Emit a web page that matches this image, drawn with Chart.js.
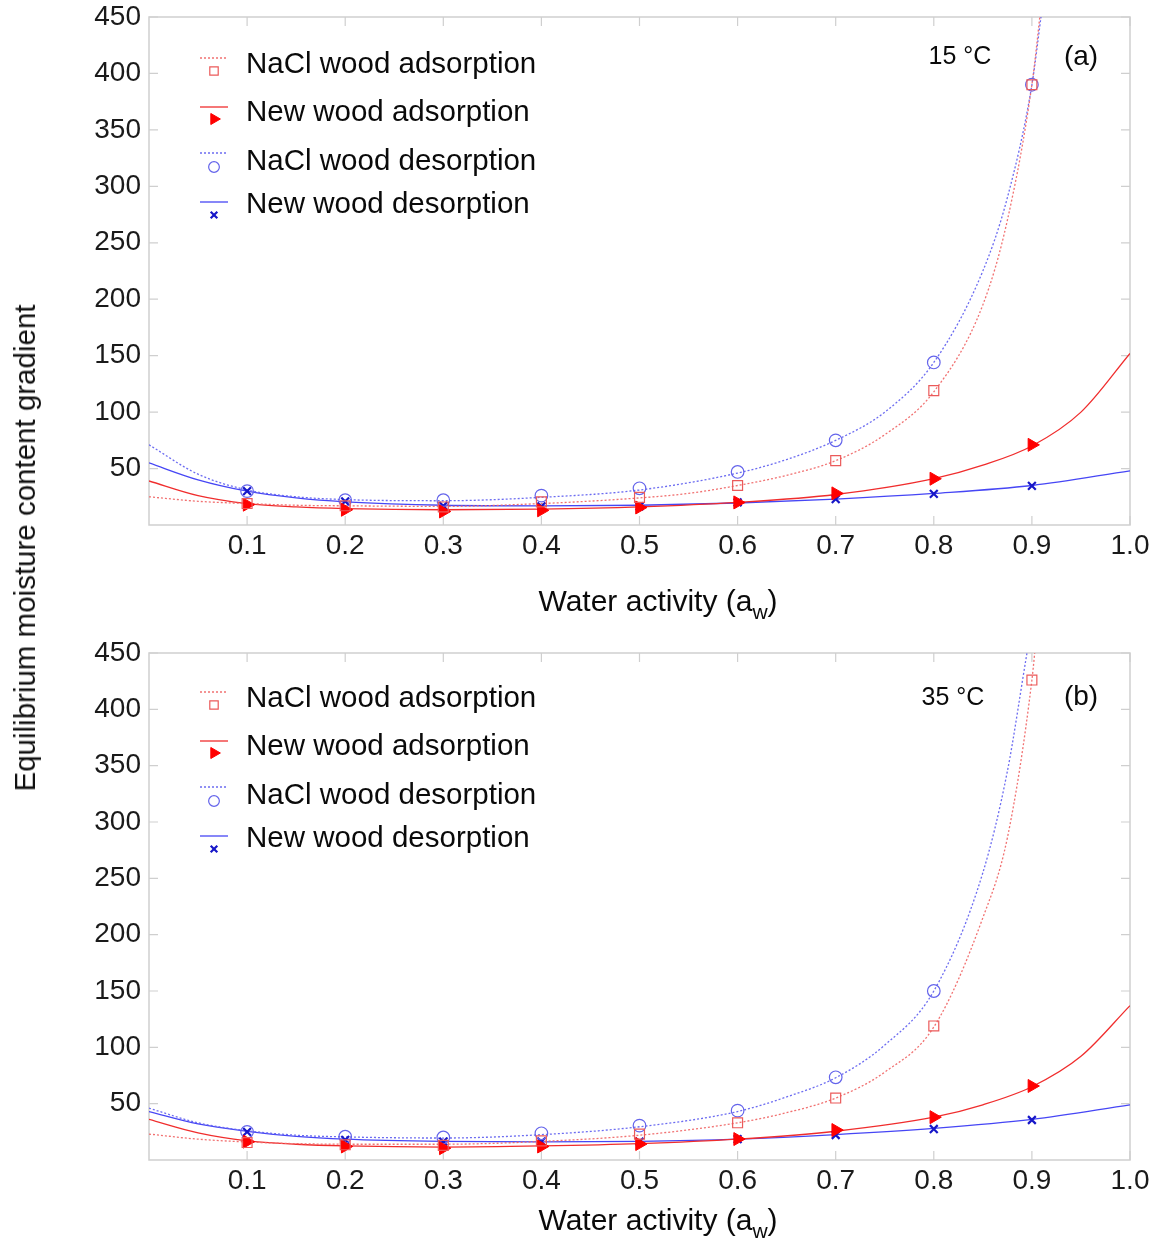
<!DOCTYPE html>
<html>
<head>
<meta charset="utf-8">
<title>Equilibrium moisture content gradient</title>
<script src="https://cdn.jsdelivr.net/npm/chart.js@4.4.1/dist/chart.umd.min.js"></script>
<style>
body { margin:0; background:#fff; width:1151px; height:1245px; position:relative; overflow:hidden; font-family:"Liberation Sans", Arial, sans-serif; }
.panel { position:absolute; left:0; width:1151px; }
#ylab { position:absolute; left:25px; top:548px; transform:translate(-50%,-50%) rotate(-90deg); font-size:29.5px; white-space:nowrap; color:#111; }
</style>
</head>
<body>
<div class="panel" style="top:0;height:636px"><canvas id="chartA"></canvas></div>
<div class="panel" style="top:636px;height:609px"><canvas id="chartB"></canvas></div>
<div id="ylab">Equilibrium moisture content gradient</div>
<script>
var xTicks = ['0.1','0.2','0.3','0.4','0.5','0.6','0.7','0.8','0.9','1.0'];
var yTicks = ['50','100','150','200','250','300','350','400','450'];
var seriesNames = ['NaCl wood adsorption','New wood adsorption','NaCl wood desorption','New wood desorption'];

// measured points (water activity)
var aw = [0.1,0.2,0.3,0.4,0.5,0.6,0.7,0.8,0.9];

// (a) 15 °C
var a_naclAds = [19,17,16,20.5,24.5,35,57,119,390];
var a_newAds  = [18,13.5,12,13,15.5,20,28,41,71];
var a_naclDes = [30,22,22,26,32.5,47,75,144,390];
var a_newDes  = [30,21,17,16.5,16.5,20,23,27.5,34.6];

// (a) fitted curves
var a_fitNaclAdsX = [0,0.05,0.1,0.15,0.2,0.3,0.4,0.5,0.55,0.6,0.65,0.7,0.75,0.8,0.85,0.875,0.9,0.91];
var a_fitNaclAdsY = [25,21,19,17.5,17,16.5,19,24,28,35,44,57,80,118,195,270,390,465];
var a_fitNewAdsX  = [0,0.05,0.1,0.15,0.2,0.3,0.4,0.5,0.6,0.7,0.8,0.85,0.9,0.95,1.0];
var a_fitNewAdsY  = [39,26,19,16,14.5,13.5,14,16,20,27,41,53,70,100,152];
var a_fitNaclDesX = [0,0.05,0.1,0.15,0.2,0.3,0.4,0.5,0.6,0.65,0.7,0.75,0.8,0.85,0.875,0.9,0.91];
var a_fitNaclDesY = [71,45,31,25,22.5,21.5,24.5,31,46,58,75,100,144,225,290,390,455];
var a_fitNewDesX  = [0,0.05,0.1,0.15,0.2,0.3,0.4,0.5,0.6,0.7,0.8,0.9,1.0];
var a_fitNewDesY  = [55,40,30,24,20.5,17.5,17,17.5,19.5,23,28,35,48];

// (b) 35 °C
var b_naclAds = [15.5,13.5,13,17,23,33,55,119,426];
var b_newAds  = [16.3,12,10.5,12,14.2,18.6,26.6,38,65.7];
var b_naclDes = [25,20.7,20,23.7,30.5,43.8,73.4,150,null];
var b_newDes  = [25,17.8,16.3,16.3,16.3,18.6,22.2,27.5,35.5];

// (b) fitted curves
var b_fitNaclAdsX = [0,0.05,0.1,0.15,0.2,0.3,0.4,0.5,0.6,0.65,0.7,0.75,0.8,0.85,0.875,0.9,0.905];
var b_fitNaclAdsY = [23,18.5,16,14.5,14,14,16.5,22,33,42,55,78,118,215,286,426,470];
var b_fitNewAdsX  = [0,0.05,0.1,0.15,0.2,0.3,0.4,0.5,0.6,0.7,0.8,0.85,0.9,0.95,1.0];
var b_fitNewAdsY  = [36,24,17,14,12.5,11.5,12.5,14.5,18.5,25.5,38,49,65,92,137];
var b_fitNaclDesX = [0,0.05,0.1,0.15,0.2,0.3,0.4,0.5,0.6,0.65,0.7,0.75,0.8,0.85,0.875,0.895,0.905];
var b_fitNaclDesY = [46,33,26,22,20.5,19.5,22.5,29.5,43,56,73,102,150,255,345,450,500];
var b_fitNewDesX  = [0,0.05,0.1,0.15,0.2,0.3,0.4,0.5,0.6,0.7,0.8,0.9,1.0];
var b_fitNewDesY  = [43,32,25.5,21,18.5,16.5,16,16.5,18.5,22.5,28,36,49];

var styles = [
  {line:'rgba(240,105,105,0.95)', dash:[2,2], pointStyle:'rect', radius:7, rotation:0, color:'rgb(235,90,90)', fill:'rgba(0,0,0,0)', bw:1.2},
  {line:'rgb(240,45,45)', dash:[], pointStyle:'triangle', radius:7.5, rotation:90, color:'#ff0000', fill:'#ff0000', bw:1},
  {line:'rgba(100,100,240,0.95)', dash:[2,2], pointStyle:'circle', radius:6.3, rotation:0, color:'rgb(100,100,235)', fill:'rgba(0,0,0,0)', bw:1.2},
  {line:'rgb(70,70,245)', dash:[], pointStyle:'crossRot', radius:5.5, rotation:0, color:'#1717c8', fill:'#1717c8', bw:2.2}
];

function pts(xs, ys) {
  var out = [];
  for (var i = 0; i < xs.length; i++) {
    if (ys[i] !== null) out.push({x: xs[i], y: ys[i]});
  }
  return out;
}

function markerSet(i, ys) {
  var s = styles[i];
  return {
    label: seriesNames[i], data: pts(aw, ys), showLine: false,
    pointStyle: s.pointStyle, pointRadius: s.radius, pointRotation: s.rotation,
    pointBackgroundColor: s.fill, pointBorderColor: s.color, pointBorderWidth: s.bw
  };
}

function curveSet(i, xs, ys) {
  var s = styles[i];
  return {
    label: seriesNames[i] + ' fit', data: pts(xs, ys), showLine: true,
    borderColor: s.line, borderWidth: 1.3, borderDash: s.dash,
    pointRadius: 0, cubicInterpolationMode: 'monotone', fill: false
  };
}

var font = '"Liberation Sans", Arial, sans-serif';

function panelPlugin(p) {
  return {
    id: 'panel' + p.tag,
    beforeDatasetsDraw: function(chart) {
      var ctx = chart.ctx, a = chart.chartArea;
      var xs = chart.scales.x, ys = chart.scales.y;
      ctx.save();
      ctx.strokeStyle = '#cfcfcf';
      ctx.lineWidth = 1.5;
      ctx.strokeRect(a.left, a.top, a.right - a.left, a.bottom - a.top);
      ctx.lineWidth = 1.2;
      ctx.beginPath();
      xTicks.forEach(function(t) {
        var px = xs.getPixelForValue(parseFloat(t));
        ctx.moveTo(px, a.bottom); ctx.lineTo(px, a.bottom - 9);
        ctx.moveTo(px, a.top); ctx.lineTo(px, a.top + 9);
      });
      yTicks.forEach(function(t) {
        var py = ys.getPixelForValue(parseFloat(t));
        ctx.moveTo(a.left, py); ctx.lineTo(a.left + 9, py);
        ctx.moveTo(a.right, py); ctx.lineTo(a.right - 9, py);
      });
      ctx.stroke();
      ctx.restore();
    },
    afterDraw: function(chart) {
      var ctx = chart.ctx, a = chart.chartArea;
      ctx.save();
      // legend: line sample above, marker below
      var lineY = [41, 90, 136, 185], markY = [54, 102, 150, 198], textY = [48, 96, 145, 188];
      for (var i = 0; i < 4; i++) {
        var s = styles[i];
        var dy = a.top + p.legendDy;
        ctx.strokeStyle = s.line;
        ctx.lineWidth = 1.3;
        ctx.setLineDash(s.dash);
        ctx.beginPath();
        ctx.moveTo(200, dy + lineY[i]); ctx.lineTo(228, dy + lineY[i]);
        ctx.stroke();
        ctx.setLineDash([]);
        ctx.fillStyle = s.fill;
        ctx.strokeStyle = s.color;
        ctx.lineWidth = s.bw;
        Chart.helpers.drawPoint(ctx, {pointStyle: s.pointStyle, radius: s.radius * 0.85, rotation: s.rotation, borderWidth: s.bw}, 214, dy + markY[i]);
        ctx.fillStyle = '#0a0a0a';
        ctx.font = '29.5px ' + font;
        ctx.textAlign = 'left';
        ctx.textBaseline = 'middle';
        ctx.fillText(seriesNames[i], 246, dy + textY[i]);
      }
      // temperature and panel tag
      ctx.fillStyle = '#0a0a0a';
      ctx.textAlign = 'center';
      ctx.textBaseline = 'middle';
      ctx.font = '25px ' + font;
      ctx.fillText(p.temp, p.tempX, a.top + p.tempDy);
      ctx.font = '28px ' + font;
      ctx.fillText(p.tag, 1081, a.top + p.tagDy);
      // x axis title with subscript
      var main = 'Water activity (a', sub = 'w', close = ')';
      ctx.font = '30px ' + font;
      var w1 = ctx.measureText(main).width, w3 = ctx.measureText(close).width;
      ctx.font = '21px ' + font;
      var w2 = ctx.measureText(sub).width;
      var x0 = 658 - (w1 + w2 + w3) / 2, ty = a.bottom + p.titleDy;
      ctx.textAlign = 'left';
      ctx.font = '30px ' + font;
      ctx.fillText(main, x0, ty);
      ctx.font = '21px ' + font;
      ctx.fillText(sub, x0 + w1, ty + 10);
      ctx.font = '30px ' + font;
      ctx.fillText(close, x0 + w1 + w2, ty);
      ctx.restore();
    }
  };
}

function makeChart(id, sets, p) {
  return new Chart(document.getElementById(id), {
    type: 'scatter',
    data: {
      datasets: [
        markerSet(0, sets[0]), markerSet(1, sets[1]), markerSet(2, sets[2]), markerSet(3, sets[3]),
        curveSet(0, sets[4], sets[5]), curveSet(1, sets[6], sets[7]),
        curveSet(2, sets[8], sets[9]), curveSet(3, sets[10], sets[11])
      ]
    },
    options: {
      responsive: true,
      maintainAspectRatio: false,
      animation: false,
      layout: {padding: {left: 0, right: 21, top: 17, bottom: 0}},
      plugins: {legend: {display: false}, tooltip: {enabled: false}},
      scales: {
        x: {
          type: 'linear', min: 0, max: 1,
          grid: {display: false, drawTicks: false}, border: {display: false},
          afterBuildTicks: function(s) { s.ticks = xTicks.map(function(t) { return {value: parseFloat(t)}; }); },
          afterFit: function(s) { s.height = p.xAxisH; s.paddingLeft = 0; s.paddingRight = 0; },
          ticks: {
            padding: 4, maxRotation: 0, autoSkip: false, color: '#1a1a1a',
            font: {size: 28, family: font},
            callback: function(v) { var t = xTicks.filter(function(k) { return parseFloat(k) === v; }); return t.length ? t[0] : ''; }
          }
        },
        y: {
          type: 'linear', min: 0, max: 450,
          grid: {display: false, drawTicks: false}, border: {display: false},
          afterBuildTicks: function(s) { s.ticks = yTicks.map(function(t) { return {value: parseFloat(t)}; }); },
          afterFit: function(s) { s.width = 149; s.paddingTop = 0; s.paddingBottom = 0; },
          ticks: {
            padding: 8, autoSkip: false, color: '#1a1a1a',
            font: {size: 28, family: font},
            callback: function(v) { var t = yTicks.filter(function(k) { return parseFloat(k) === v; }); return t.length ? t[0] : ''; }
          }
        }
      }
    },
    plugins: [panelPlugin(p)]
  });
}

makeChart('chartA',
  [a_naclAds, a_newAds, a_naclDes, a_newDes,
   a_fitNaclAdsX, a_fitNaclAdsY, a_fitNewAdsX, a_fitNewAdsY,
   a_fitNaclDesX, a_fitNaclDesY, a_fitNewDesX, a_fitNewDesY],
  {tag: '(a)', temp: '15 \u00B0C', tempX: 960, tempDy: 40, tagDy: 40, legendDy: 0, titleDy: 78, xAxisH: 111});

makeChart('chartB',
  [b_naclAds, b_newAds, b_naclDes, b_newDes,
   b_fitNaclAdsX, b_fitNaclAdsY, b_fitNewAdsX, b_fitNewAdsY,
   b_fitNaclDesX, b_fitNaclDesY, b_fitNewDesX, b_fitNewDesY],
  {tag: '(b)', temp: '35 \u00B0C', tempX: 953, tempDy: 45, tagDy: 44, legendDy: -2, titleDy: 62, xAxisH: 85});
</script>
</body>
</html>
